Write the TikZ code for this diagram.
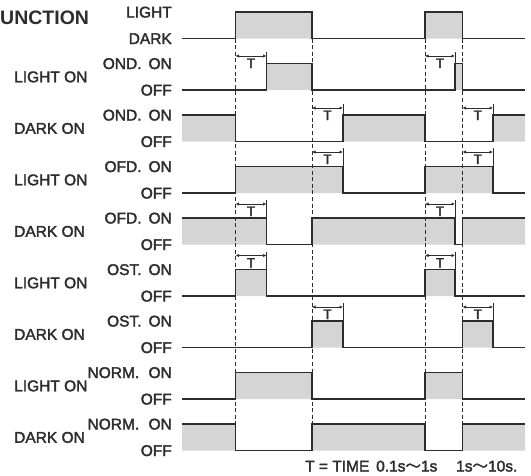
\documentclass[tikz,border=0pt]{standalone}
\usepackage{fontspec}
\usetikzlibrary{arrows.meta}
\newfontfamily\lblfont{Liberation Sans}[FakeBold=2.2]
\newfontfamily\ttlfont{Liberation Sans Bold}
\newfontfamily\cjkfont{Noto Sans CJK JP}[FakeBold=1.5]
\definecolor{ink}{RGB}{45,45,45}
\definecolor{shade}{RGB}{213,213,213}
\tikzset{
  sig/.style={draw=ink, line width=1.25pt, line join=miter},
  onfill/.style={fill=shade},
  guide/.style={draw=ink, line width=1pt, dash pattern=on 4pt off 2.6pt},
  dimarrow/.style={draw=ink, line width=0.9pt, {Latex[length=3.5pt,width=3.5pt]}-{Latex[length=3.5pt,width=3.5pt]}},
  ext/.style={draw=ink, line width=1pt},
  lvl/.style={font=\lblfont\fontsize{15.5}{15.5}\selectfont, text=ink, inner sep=0pt, anchor=base east},
  mode/.style={font=\lblfont\fontsize{15.5}{15.5}\selectfont, text=ink, inner sep=0pt, anchor=base west},
  tlbl/.style={font=\lblfont\fontsize{13.5}{13.5}\selectfont, text=ink, inner sep=0pt, anchor=base},
  note/.style={font=\lblfont\fontsize{15.5}{15.5}\selectfont, text=ink, inner sep=0pt, anchor=base west},
}
\newcommand\tdim[5]{%
  \draw[dimarrow] (#1,#3) -- (#2,#3);
  \draw[ext] (#2,#3-4) -- (#2,#4);
  \node[tlbl] (#5) at ({(#1+#2)/2},#3+12) {T};}
\def\xs{182}\def\xe{525}
\def\xa{235.5}\def\xb{312}\def\xc{425}\def\xd{462.5}
\def\xat{266.5}\def\xbt{343}\def\xct{455}\def\xdt{493}
\begin{document}
\begin{tikzpicture}[x=1pt,y=-1pt]
\useasboundingbox (0,0) rectangle (531,475);
% fills
\fill[onfill] (\xa,12) rectangle (\xb,38.5) (\xc,12) rectangle (\xd,38.5);
\fill[onfill] (\xat,63.5) rectangle (\xb,90) (\xct,63.5) rectangle (\xd,90);
\fill[onfill] (\xs,115) rectangle (\xa,141.5) (\xbt,115) rectangle (\xc,141.5) (\xdt,115) rectangle (\xe,141.5);
\fill[onfill] (\xa,166.5) rectangle (\xbt,193) (\xc,166.5) rectangle (\xdt,193);
\fill[onfill] (\xs,218) rectangle (\xat,244.5) (\xb,218) rectangle (\xct,244.5) (\xd,218) rectangle (\xe,244.5);
\fill[onfill] (\xa,269.5) rectangle (\xat,296) (\xc,269.5) rectangle (\xct,296);
\fill[onfill] (\xb,321) rectangle (\xbt,347.5) (\xd,321) rectangle (\xdt,347.5);
\fill[onfill] (\xa,372.5) rectangle (\xb,399) (\xc,372.5) rectangle (\xd,399);
\fill[onfill] (\xs,424) rectangle (\xa,450.5) (\xb,424) rectangle (\xc,450.5) (\xd,424) rectangle (\xe,450.5);
% guides
\foreach \gx in {\xa,\xb,\xc,\xd} \draw[guide] (\gx,38.5) -- (\gx,450.5);
% signals
\draw[sig] (\xs,38.5) -- (\xa,38.5) -- (\xa,12) -- (\xb,12) -- (\xb,38.5) -- (\xc,38.5) -- (\xc,12) -- (\xd,12) -- (\xd,38.5) -- (\xe,38.5);
\draw[sig] (\xs,90) -- (\xat,90) -- (\xat,63.5) -- (\xb,63.5) -- (\xb,90) -- (\xct,90) -- (\xct,63.5) -- (\xd,63.5) -- (\xd,90) -- (\xe,90);
\draw[sig] (\xs,115) -- (\xa,115) -- (\xa,141.5) -- (\xbt,141.5) -- (\xbt,115) -- (\xc,115) -- (\xc,141.5) -- (\xdt,141.5) -- (\xdt,115) -- (\xe,115);
\draw[sig] (\xs,193) -- (\xa,193) -- (\xa,166.5) -- (\xbt,166.5) -- (\xbt,193) -- (\xc,193) -- (\xc,166.5) -- (\xdt,166.5) -- (\xdt,193) -- (\xe,193);
\draw[sig] (\xs,218) -- (\xat,218) -- (\xat,244.5) -- (\xb,244.5) -- (\xb,218) -- (\xct,218) -- (\xct,244.5) -- (\xd,244.5) -- (\xd,218) -- (\xe,218);
\draw[sig] (\xs,296) -- (\xa,296) -- (\xa,269.5) -- (\xat,269.5) -- (\xat,296) -- (\xc,296) -- (\xc,269.5) -- (\xct,269.5) -- (\xct,296) -- (\xe,296);
\draw[sig] (\xs,347.5) -- (\xb,347.5) -- (\xb,321) -- (\xbt,321) -- (\xbt,347.5) -- (\xd,347.5) -- (\xd,321) -- (\xdt,321) -- (\xdt,347.5) -- (\xe,347.5);
\draw[sig] (\xs,399) -- (\xa,399) -- (\xa,372.5) -- (\xb,372.5) -- (\xb,399) -- (\xc,399) -- (\xc,372.5) -- (\xd,372.5) -- (\xd,399) -- (\xe,399);
\draw[sig] (\xs,424) -- (\xa,424) -- (\xa,450.5) -- (\xb,450.5) -- (\xb,424) -- (\xc,424) -- (\xc,450.5) -- (\xd,450.5) -- (\xd,424) -- (\xe,424);
% T dimensions
\tdim{\xa}{\xat}{56}{63.5}{t1a}
\tdim{\xc}{\xct}{56}{63.5}{t1b}
\tdim{\xb}{\xbt}{108}{115}{t2a}
\tdim{\xd}{\xdt}{108}{115}{t2b}
\tdim{\xb}{\xbt}{152}{166.5}{t3a}
\tdim{\xd}{\xdt}{152}{166.5}{t3b}
\tdim{\xa}{\xat}{204}{218}{t4a}
\tdim{\xc}{\xct}{204}{218}{t4b}
\tdim{\xa}{\xat}{255.5}{269.5}{t5a}
\tdim{\xc}{\xct}{255.5}{269.5}{t5b}
\tdim{\xb}{\xbt}{307}{321}{t6a}
\tdim{\xd}{\xdt}{307}{321}{t6b}
% title
\node[font=\ttlfont\fontsize{19.5}{19.5}\selectfont, text=ink, inner sep=0pt, anchor=base west] (title) at (0,24.5) {UNCTION};
% level labels
\node[lvl] (l0on) at (172,17.5) {LIGHT};
\node[lvl] (l0off) at (172,44) {DARK};
\node[lvl] (l1on) at (172,69) {OND.\hspace{0.45em}ON};
\node[lvl] (l1off) at (172,95.5) {OFF};
\node[lvl] (l2on) at (172,120.5) {OND.\hspace{0.45em}ON};
\node[lvl] (l2off) at (172,147) {OFF};
\node[lvl] (l3on) at (172,172) {OFD.\hspace{0.45em}ON};
\node[lvl] (l3off) at (172,198.5) {OFF};
\node[lvl] (l4on) at (172,223.5) {OFD.\hspace{0.45em}ON};
\node[lvl] (l4off) at (172,250) {OFF};
\node[lvl] (l5on) at (172,275) {OST.\hspace{0.45em}ON};
\node[lvl] (l5off) at (172,301.5) {OFF};
\node[lvl] (l6on) at (172,326.5) {OST.\hspace{0.45em}ON};
\node[lvl] (l6off) at (172,353) {OFF};
\node[lvl] (l7on) at (172,378) {NORM.\hspace{0.6em}ON};
\node[lvl] (l7off) at (172,404.5) {OFF};
\node[lvl] (l8on) at (172,429.5) {NORM.\hspace{0.6em}ON};
\node[lvl] (l8off) at (172,456) {OFF};
% mode labels
\node[mode] (m1) at (14,82.25) {LIGHT ON};
\node[mode] (m2) at (14,133.75) {DARK ON};
\node[mode] (m3) at (14,185.25) {LIGHT ON};
\node[mode] (m4) at (14,236.75) {DARK ON};
\node[mode] (m5) at (14,288.25) {LIGHT ON};
\node[mode] (m6) at (14,339.75) {DARK ON};
\node[mode] (m7) at (14,391.25) {LIGHT ON};
\node[mode] (m8) at (14,442.75) {DARK ON};
% note
\node[note] (n1) at (305,471.5) {T = TIME};
\node[note] (n2) at (376,471.5) {0.1s{\cjkfont ～}1s};
\node[note] (n3) at (456,471.5) {1s{\cjkfont ～}10s.};
\end{tikzpicture}
\end{document}
